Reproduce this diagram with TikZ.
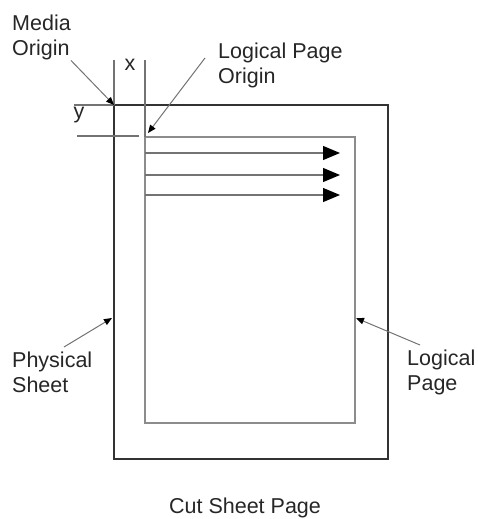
\documentclass[tikz,border=0pt]{standalone}
\usepackage{fontspec}
\setmainfont{Liberation Sans}
\usetikzlibrary{arrows.meta, positioning}
\begin{document}
\begin{tikzpicture}[x=1pt, y=-1pt, font=\fontsize{21.5}{25}\selectfont]
        % Setup the styles
        \tikzset{sheet style/.style={draw=black!80, line width=2.4pt,
                                     minimum width=274pt, minimum height=354pt,
                                     inner sep=0pt, outer sep=0pt},
                 page style/.style={draw=black!45, line width=1.4pt,
                                    minimum width=210pt, minimum height=286pt,
                                    inner sep=0pt, outer sep=0pt},
                 label style/.style={inner sep=0pt, align=left, text=black!85},
                 dim style/.style={draw=black!55, line width=1.1pt},
                 leader style/.style={draw=black!55, line width=1pt,
                                      -{Triangle[length=8pt, width=6.5pt, color=black]}},
                 flow style/.style={draw=black!55, line width=1.2pt,
                                    -{Triangle[length=17pt, width=14pt, color=black]}}}
        \useasboundingbox (0,0) rectangle (477,519);

        % Draw the sheet and the page
        \node[sheet style] at (251,282) (sheet) {};
        \node[page style] at (250,280) (logical) {};

        % Draw the labels
        \node[label style, anchor=north west] at (12,15)   (media)    {Media\\Origin};
        \node[label style, anchor=north west] at (218,43)  (lorigin)  {Logical Page\\Origin};
        \node[label style, anchor=north west] at (12,352)  (physical) {Physical\\Sheet};
        \node[label style, anchor=north west] at (407,350) (lpage)    {Logical\\Page};
        \node[label style] at (130,65)  (xlabel) {x};
        \node[label style] at (79,115)  (ylabel) {y};
        \node[label style, anchor=base] at (245,513) (caption) {Cut Sheet Page};

        % Tails and tips of the leaders
        \coordinate (lo-tail) at (205,58);
        \coordinate (lo-tip)  at (148,133);
        \coordinate (ps-tail) at (64,347);
        \coordinate (ps-tip)  at (112,318);
        \coordinate (lp-tail) at (420,345);
        \coordinate (lp-tip)  at (356,318);

        % Draw the offsets
        \draw[dim style] (sheet.north west) -- ++(0,-45);
        \draw[dim style] (logical.north west) -- (logical.north west |- 0,60);
        \draw[dim style] (sheet.north west) -- ++(-40,0);
        \draw[dim style] (139,136) -- (77,136);

        % Draw the leaders
        \draw[leader style] (media.south east) -- (sheet.north west);
        \draw[leader style] (lo-tail) -- (lo-tip);
        \draw[leader style] (ps-tail) -- (ps-tip);
        \draw[leader style] (lp-tail) -- (lp-tip);

        % Draw the lines of the page
        \foreach \y in {153,175,195}
            \draw[flow style] (logical.west |- 0,\y) -- (340,\y);
\end{tikzpicture}
\end{document}
